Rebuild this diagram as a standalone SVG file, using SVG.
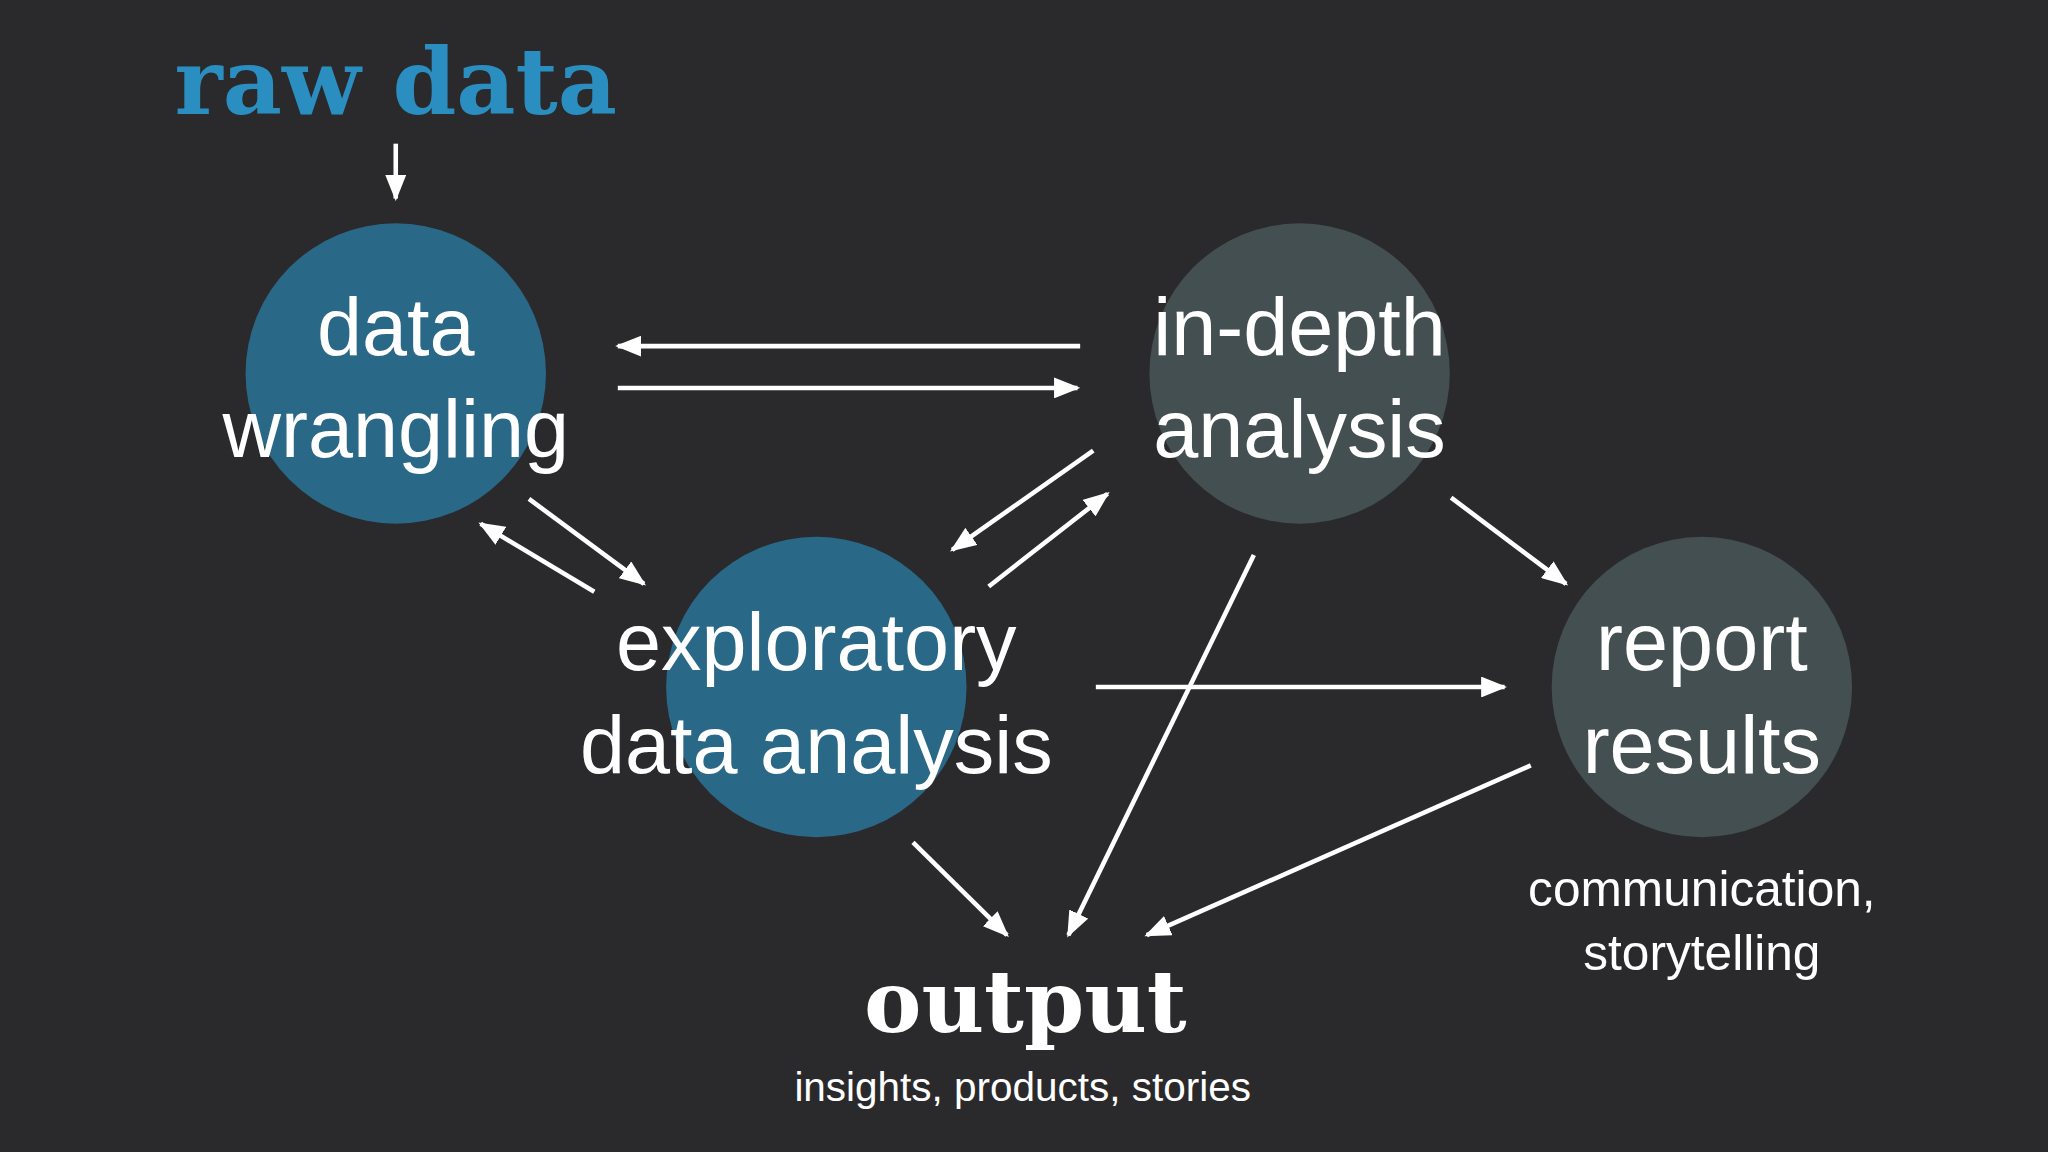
<svg xmlns="http://www.w3.org/2000/svg" width="2048" height="1152" viewBox="0 0 2048 1152">
<style>
.n{font-family:"Liberation Sans","DejaVu Sans",sans-serif;font-size:62px;fill:#fff;text-anchor:middle;font-weight:300}
.s{font-family:"Liberation Sans","DejaVu Sans",sans-serif;fill:#fff;text-anchor:middle}
.slab{font-family:"DejaVu Serif","Liberation Serif",serif;font-weight:bold;text-anchor:middle}
#c line{stroke:#fff;stroke-width:3.5;marker-end:url(#a)}
</style>
<defs><marker id="a" markerUnits="userSpaceOnUse" markerWidth="20" markerHeight="16" refX="18" refY="8" orient="auto"><path d="M0,0L20,8L0,16z" fill="#fff"/></marker></defs>
<rect width="2048" height="1152" fill="#2a2a2c"/>
<g transform="scale(1.30612)">
<g id="c">
<line x1="303" y1="110" x2="303" y2="152"/>
<line x1="827" y1="265" x2="473" y2="265"/>
<line x1="473" y1="297" x2="825" y2="297"/>
<line x1="405" y1="382" x2="493" y2="447"/>
<line x1="455" y1="453" x2="368" y2="401"/>
<line x1="837" y1="345" x2="729" y2="421"/>
<line x1="757" y1="449" x2="848" y2="378"/>
<line x1="1111" y1="381" x2="1199" y2="447"/>
<line x1="839" y1="526" x2="1152" y2="526"/>
<line x1="960" y1="425" x2="818" y2="716"/>
<line x1="1172" y1="586" x2="878" y2="716"/>
<line x1="699" y1="645" x2="771" y2="716"/>
</g>
<g id="raw"><text class="slab" x="303" y="87" font-size="70" fill="#2a8fc0">raw data</text></g>
<g id="dw"><circle cx="303" cy="286" r="115" fill="#2a6887"/><text class="n" x="303" y="272">data</text><text class="n" x="303" y="350">wrangling</text></g>
<g id="ida"><circle cx="995" cy="286" r="115" fill="#434f50"/><text class="n" x="995" y="272">in-depth</text><text class="n" x="995" y="350">analysis</text></g>
<g id="eda"><circle cx="625" cy="526" r="115" fill="#2a6887"/><text class="n" x="625" y="513">exploratory</text><text class="n" x="625" y="592">data analysis</text></g>
<g id="rep"><circle cx="1303" cy="526" r="115" fill="#434f50"/><text class="n" x="1303" y="513">report</text><text class="n" x="1303" y="592">results</text>
<text class="s" x="1303" y="694" font-size="38">communication,</text><text class="s" x="1303" y="743" font-size="38">storytelling</text></g>
<g id="out"><text class="slab" x="785" y="790" font-size="66" fill="#fff">output</text><text class="s" x="783" y="843" font-size="31">insights, products, stories</text></g>
</g>
</svg>
